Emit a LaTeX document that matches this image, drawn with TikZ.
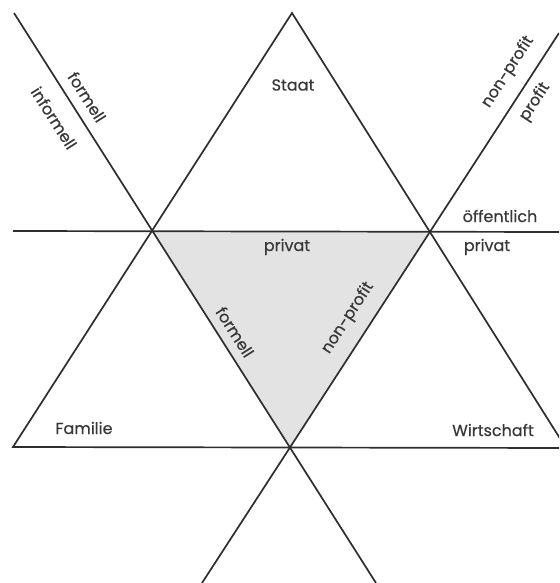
\documentclass[tikz,border=0pt]{standalone}
\usepackage{fontspec}
\setmainfont{Poppins}
\newfontfamily\lblfont{Poppins}[FakeBold=0.45]
\begin{document}
\begin{tikzpicture}[x=1pt,y=-1pt,
  ln/.style={line width=1.7pt,draw=black!82,line join=miter},
  lbl/.style={font=\lblfont\fontsize{16}{18}\selectfont,text=black!78,inner sep=0pt}]
\clip (0,0) rectangle (559,583);
\fill[white] (0,0) rectangle (559,583);
% key points
\coordinate (apex) at (292,13);
\coordinate (A) at (153,231);
\coordinate (B) at (429,232);
\coordinate (C) at (290,447);
\coordinate (FL) at (13,447);
\coordinate (FR) at (566,448);
\coordinate (TL) at (14,13);
\coordinate (BR) at (376,583);
\coordinate (TR) at (559,33);
\coordinate (BL) at (202,583);
\coordinate (HL) at (13,231);
\coordinate (HR) at (560,232);
% shaded centre
\fill[black!11] (A) -- (B) -- (C) -- cycle;
% lines
\draw[ln] (apex) -- (FL) -- (FR) -- cycle;
\draw[ln] (TL) -- (BR);
\draw[ln] (TR) -- (BL);
\draw[ln] (HL) -- (HR);
% labels
\node[lbl] (staat) at (293,85) {Staat};
\node[lbl] (familie) at (84,428) {Familie};
\node[lbl] (wirtschaft) at (493,430) {Wirtschaft};
\node[lbl,rotate=-57.5] (formellA) at (87,97) {formell};
\node[lbl,rotate=-57.5] (informell) at (54,118) {informell};
\node[lbl,rotate=57] (nonprofitA) at (508,72) {non-profit};
\node[lbl,rotate=57] (profit) at (535,102) {profit};
\node[lbl] (oeff) at (500,216) {öffentlich};
\node[lbl] (privatR) at (487,247) {privat};
\node[lbl] (privatC) at (287,247) {privat};
\node[lbl,rotate=-57.5] (formellC) at (235,332) {formell};
\node[lbl,rotate=57] (nonprofitC) at (348,318) {non-profit};
\end{tikzpicture}
\end{document}
